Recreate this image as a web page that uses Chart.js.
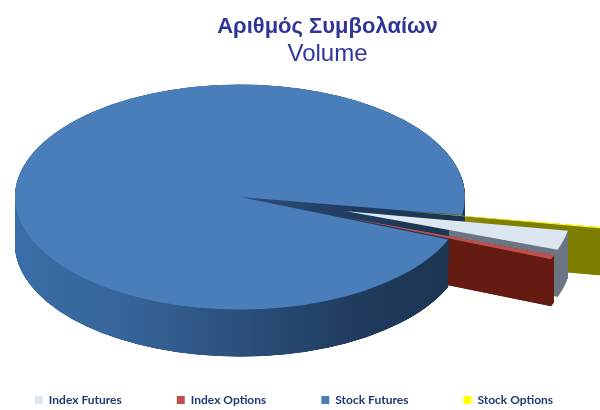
<!DOCTYPE html>
<html lang="en">
<head>
  <meta charset="UTF-8" />
  <title>Volume</title>
  <script src="https://cdn.jsdelivr.net/npm/chart.js"></script>
  <style>
    html, body { margin: 0; padding: 0; background: #fff; overflow: hidden; }
    #wrap { width: 600px; height: 410px; overflow: hidden; }
  </style>
</head>
<body>
  <div id="wrap"><canvas id="chart" width="660" height="410"></canvas></div>
  <script>
    const categories = ["Index Futures", "Index Options", "Stock Futures", "Stock Options"];
    const shares = [2.78, 0.6, 96.42, 0.2];
    const topColors = ["#dce6f1", "#c0504d", "#4a7ebb", "#ffff00"];
    const wallColors = ["#6d7684", "#661d14", "#2f5f96", "#7f7f00"];
    const explode = [110, 110, 0, 160];

    const centerX = 240, centerY = 197, squash = 0.5, depth = 47;

    // pseudo 3d: draws the library's own arcs squashed, wall first and top after
    const pie3d = {
      id: "pie3d",
      afterLayout(chart) {
        chart.boxes.forEach(b => {
          if (b === chart.legend) {
            b.left -= 36; b.right -= 36;
            b.top += 6; b.bottom += 6;
          } else if (b.options && b.options.text) {
            b.left -= 2.5; b.right -= 2.5;
          }
        });
      },
      beforeDatasetsDraw(chart) {
        const ctx = chart.ctx;
        const arcs = chart.getDatasetMeta(0).data;
        const stock = arcs[2];
        const shiftX = centerX - stock.x;

        const wallFill = i => {
          if (i !== 2) return wallColors[i];
          const g = ctx.createLinearGradient(14 - shiftX, 0, 450 - shiftX, 0);
          g.addColorStop(0, "#3a6ea6");
          g.addColorStop(0.25, "#36659a");
          g.addColorStop(0.55, "#2a4d78");
          g.addColorStop(0.8, "#1f3a5c");
          g.addColorStop(1, "#1c3552");
          return g;
        };

        const drawArc = (i, dy, fill) => {
          const el = arcs[i], opts = el.options;
          const mid = (el.startAngle + el.endAngle) / 2;
          ctx.save();
          ctx.translate(centerX, centerY + dy);
          ctx.scale(1, squash);
          ctx.translate(-el.x + Math.cos(mid) * explode[i], -el.y + Math.sin(mid) * explode[i]);
          el.options = Object.assign({}, opts, { backgroundColor: fill });
          el.draw(ctx);
          el.options = opts;
          ctx.restore();
        };
        const wall = i => {
          const fill = wallFill(i);
          for (let d = depth; d > 0; d -= 0.25) drawArc(i, d, fill);
        };

        wall(3);
        wall(2);
        wall(0); wall(1);

        // front part of the big slice sits in front of the pulled out walls
        const rimX = centerX + stock.outerRadius * Math.cos(stock.startAngle);
        ctx.save();
        ctx.beginPath();
        ctx.rect(0, 0, rimX, chart.height);
        ctx.clip();
        wall(2);
        ctx.restore();

        drawArc(2, 0, topColors[2]);
        drawArc(3, 0, topColors[3]);
        drawArc(0, 0, topColors[0]);
        drawArc(1, 0, topColors[1]);
        return false;
      }
    };

    new Chart(document.getElementById("chart"), {
      type: "pie",
      plugins: [pie3d],
      data: {
        labels: categories,
        datasets: [{
          data: shares,
          backgroundColor: topColors,
          borderWidth: 0
        }]
      },
      options: {
        responsive: false,
        animation: false,
        rotation: 100,
        radius: 225,
        plugins: {
          title: {
            display: true,
            text: "Αριθμός Συμβολαίων",
            color: "#2f3699",
            font: { family: "'Liberation Sans'", size: 22, weight: "bold" },
            padding: { top: 14, bottom: 0 }
          },
          subtitle: {
            display: true,
            text: "Volume",
            color: "#2f3699",
            font: { family: "'Liberation Sans'", size: 24, weight: "normal" },
            padding: { top: 0, bottom: 0 }
          },
          legend: {
            position: "bottom",
            labels: {
              boxWidth: 8,
              boxHeight: 8,
              padding: 55,
              color: "#1f3a6e",
              font: { family: "Lato", size: 12, weight: "bold" }
            }
          },
          tooltip: { enabled: false }
        }
      }
    });
  </script>
</body>
</html>
